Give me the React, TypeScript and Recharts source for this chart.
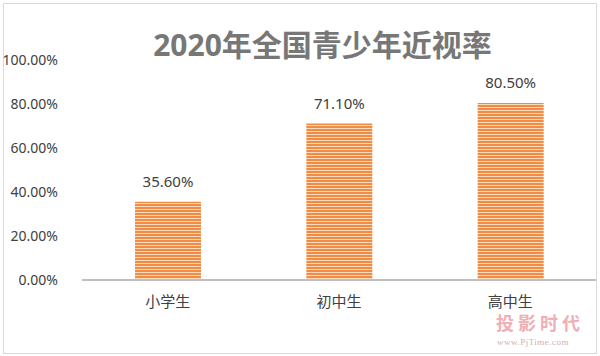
import { BarChart, Bar, XAxis, YAxis, LabelList } from "recharts"

const categories = ["小学生", "初中生", "高中生"]
const rates = [35.6, 71.1, 80.5]
const yTicks = [0, 20, 40, 60, 80, 100]

const chartData = categories.map((name, i) => ({ name, rate: rates[i] }))

const FONT = "'Noto Sans', 'Noto Sans CJK SC', sans-serif"

export default function App() {
  return (
    <div
      style={{
        position: "absolute",
        left: 0,
        top: 0,
        width: 600,
        height: 356,
        background: "#fff",
        fontFamily: FONT,
      }}
    >
      {/* stripe fill for the bars */}
      <svg width={0} height={0} style={{ position: "absolute" }}>
        <defs>
          <pattern id="stripes" width={4} height={3} patternUnits="userSpaceOnUse">
            <rect width={4} height={3} fill="#FBD9BF" />
            <rect width={4} height={2} fill="#F08C44" />
          </pattern>
        </defs>
      </svg>

      {/* frame */}
      <div
        style={{
          position: "absolute",
          left: 3,
          top: 3,
          width: 592,
          height: 349,
          border: "1px solid #D9D9D9",
        }}
      />

      <div
        style={{
          position: "absolute",
          left: 140,
          width: 365,
          top: 25,
          textAlign: "center",
          fontSize: 30,
          fontWeight: 700,
          color: "#777777",
          lineHeight: "40px",
        }}
      >
        2020年全国青少年近视率
      </div>

      <BarChart
        width={600}
        height={356}
        data={chartData}
        margin={{ top: 60, right: 4, left: 0, bottom: 0 }}
        style={{ position: "absolute", left: 0, top: 0 }}
      >
        <XAxis
          dataKey="name"
          height={76}
          tickLine={false}
          axisLine={{ stroke: "#BFBFBF", strokeWidth: 2 }}
          tick={{ fill: "#404040", fontSize: 15, fontFamily: FONT }}
          tickMargin={10}
        />
        <YAxis
          width={82}
          domain={[0, 100]}
          ticks={yTicks}
          axisLine={false}
          tickLine={false}
          tickMargin={18}
          tickFormatter={(v) => `${v.toFixed(2)}%`}
          tick={{ fill: "#404040", fontSize: 14, fontFamily: FONT }}
        />
        <Bar dataKey="rate" fill="url(#stripes)" barSize={66} isAnimationActive={false}>
          <LabelList
            dataKey="rate"
            position="top"
            offset={15}
            formatter={(v: number) => `${v.toFixed(2)}%`}
            style={{ fill: "#404040", fontSize: 15, fontFamily: FONT }}
          />
        </Bar>
      </BarChart>

      {/* watermark */}
      <div
        style={{
          position: "absolute",
          left: 496,
          top: 314,
          fontSize: 18,
          fontWeight: 700,
          color: "#F0AEB5",
          letterSpacing: 4,
          lineHeight: "18px",
        }}
      >
        投影时代
      </div>
      <div
        style={{
          position: "absolute",
          left: 497,
          top: 337,
          fontSize: 9,
          fontFamily: "'Liberation Serif', serif",
          color: "#CFAFAF",
          letterSpacing: 0.5,
          lineHeight: "10px",
        }}
      >
        www.PjTime.com
      </div>
    </div>
  )
}
